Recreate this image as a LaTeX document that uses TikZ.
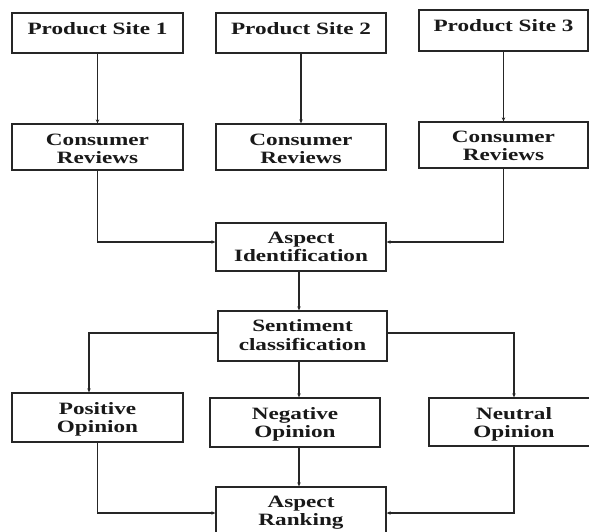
\documentclass[tikz,border=0pt]{standalone}
\usepackage{fontspec}
\setmainfont{Liberation Serif}[FakeStretch=1.34]
\usetikzlibrary{arrows.meta}
\begin{document}
\begin{tikzpicture}[x=1pt,y=-1pt,
  box/.style n args={2}{draw=black!85, line width=1.3pt, minimum width=#1, minimum height=#2, inner sep=0pt},
  txt/.style={anchor=north, inner sep=0pt, align=center, text=black!90, font=\fontsize{17.3}{18.3}\selectfont\bfseries},
  conn/.style={draw=black!85, line width=1.1pt, -{Stealth[length=4pt,width=3.5pt]}}]
\useasboundingbox (0,0) rectangle (589,531);
\fill[white] (0,0) rectangle (589,531);
% boxes
\node[box={171pt}{40pt}] (ps1) at (97.5,33) {};
\node[box={170pt}{40pt}] (ps2) at (301,33) {};
\node[box={169pt}{41pt}] (ps3) at (503.5,30.5) {};
\node[box={171pt}{46pt}] (cr1) at (97.5,147) {};
\node[box={170pt}{46pt}] (cr2) at (301,147) {};
\node[box={169pt}{46pt}] (cr3) at (503.5,145) {};
\node[box={170pt}{48pt}] (ai) at (301,247) {};
\node[box={169pt}{50pt}] (sc) at (302.5,336) {};
\node[box={171pt}{49pt}] (pos) at (97.5,417.5) {};
\node[box={170pt}{49pt}] (neg) at (295,422.5) {};
\node[box={170pt}{48pt}] (neu) at (514,422) {};
\node[box={170pt}{48pt}] (ar) at (301,511) {};
% texts
\node[txt] (tps1) at ([yshift=-9.5pt]ps1.north) {Product Site 1};
\node[txt] (tps2) at ([yshift=-9.5pt]ps2.north) {Product Site 2};
\node[txt] (tps3) at ([yshift=-9.5pt]ps3.north) {Product Site 3};
\node[txt] (tcr1) at ([yshift=-10.1pt]cr1.north) {Consumer\\Reviews};
\node[txt] (tcr2) at ([yshift=-10.1pt]cr2.north) {Consumer\\Reviews};
\node[txt] (tcr3) at ([yshift=-9.5pt]cr3.north) {Consumer\\Reviews};
\node[txt] (tai) at ([yshift=-9.5pt]ai.north) {Aspect\\Identification};
\node[txt] (tsc) at ([yshift=-9.3pt]sc.north) {Sentiment\\classification};
\node[txt] (tpos) at ([yshift=-9.5pt]pos.north) {Positive\\Opinion};
\node[txt] (tneg) at ([yshift=-9.5pt]neg.north) {Negative\\Opinion};
\node[txt] (tneu) at ([yshift=-9.5pt]neu.north) {Neutral\\Opinion};
\node[txt] (tar) at ([yshift=-9.5pt]ar.north) {Aspect\\Ranking};
% connectors
\draw[conn] (ps1) -- (cr1);
\draw[conn] (ps2) -- (cr2);
\draw[conn] (ps3) -- (cr3);
\draw[conn] (cr1.south) |- ([yshift=5pt]ai.west);
\draw[conn] (cr3.south) |- ([yshift=5pt]ai.east);
\draw[conn] ([xshift=-2pt]ai.south) -- ([xshift=-2pt]ai.south |- sc.north);
\draw[conn] ([yshift=3pt]sc.west) -| ([xshift=-8.5pt]pos.north);
\draw[conn] ([xshift=-3.5pt]sc.south) -- ([xshift=-3.5pt]sc.south |- neg.north);
\draw[conn] ([yshift=3pt]sc.east) -| (neu.north);
\draw[conn] (pos.south) |- ([yshift=-2pt]ar.west);
\draw[conn] ([xshift=4pt]neg.south) -- ([xshift=4pt]neg.south |- ar.north);
\draw[conn] (neu.south) |- ([yshift=-2pt]ar.east);
\end{tikzpicture}
\end{document}
